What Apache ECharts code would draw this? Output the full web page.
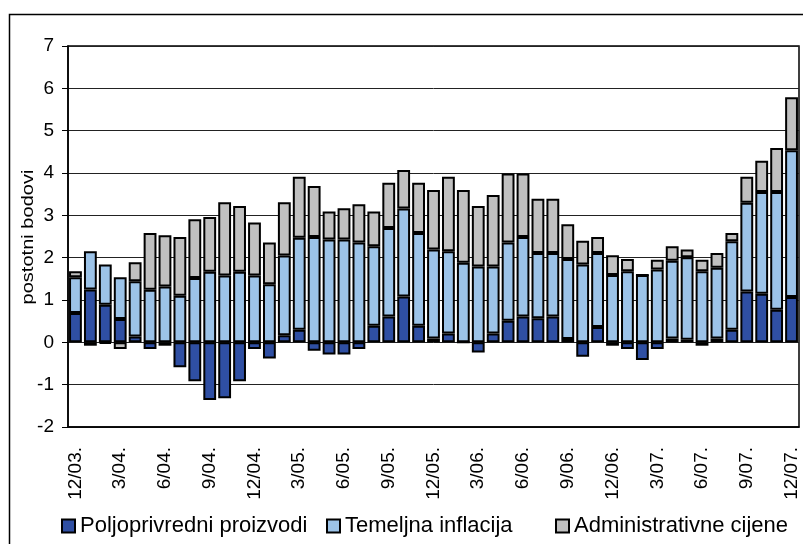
<!DOCTYPE html>
<html>
<head>
<meta charset="utf-8">
<title>Doprinosi inflaciji</title>
<script src="https://cdn.jsdelivr.net/npm/echarts@6/dist/echarts.min.js"></script>
<style>
  html, body { margin: 0; padding: 0; background: #fff; }
  #chart { width: 803px; height: 544px; }
</style>
</head>
<body>
<div id="chart"></div>
<script>
// mjeseci od 12/03. do 12/07.
var months = [
  '12/03.', '1/04.', '2/04.', '3/04.', '4/04.', '5/04.', '6/04.', '7/04.', '8/04.', '9/04.', '10/04.', '11/04.',
  '12/04.', '1/05.', '2/05.', '3/05.', '4/05.', '5/05.', '6/05.', '7/05.', '8/05.', '9/05.', '10/05.', '11/05.',
  '12/05.', '1/06.', '2/06.', '3/06.', '4/06.', '5/06.', '6/06.', '7/06.', '8/06.', '9/06.', '10/06.', '11/06.',
  '12/06.', '1/07.', '2/07.', '3/07.', '4/07.', '5/07.', '6/07.', '7/07.', '8/07.', '9/07.', '10/07.', '11/07.',
  '12/07.'
];

var poljoprivredni = [
  0.69, 1.25, 0.89, 0.55, 0.14, -0.16, -0.08, -0.59, -0.92, -1.36, -1.32, -0.92,
  -0.16, -0.38, 0.17, 0.30, -0.20, -0.29, -0.29, -0.16, 0.39, 0.61, 1.08, 0.39,
  0.09, 0.21, 0, -0.24, 0.21, 0.51, 0.61, 0.57, 0.61, 0.08, -0.34, 0.36,
  -0.08, -0.16, -0.42, -0.16, 0.09, 0.06, -0.08, 0.09, 0.30, 1.20, 1.15, 0.77,
  1.07
];

var temeljna = [
  0.85, 0.90, 0.95, 0.99, 1.30, 1.24, 1.32, 1.10, 1.52, 1.67, 1.58, 1.67,
  1.58, 1.37, 1.88, 2.17, 2.49, 2.43, 2.43, 2.36, 1.88, 2.09, 2.08, 2.19,
  2.10, 1.94, 1.88, 1.79, 1.58, 1.85, 1.88, 1.54, 1.50, 1.89, 1.84, 1.75,
  1.59, 1.68, 1.59, 1.72, 1.84, 1.95, 1.68, 1.67, 2.09, 2.10, 2.40, 2.78,
  3.47
];

var administrativne = [
  0.14, -0.08, -0.03, -0.16, 0.45, 1.34, 1.21, 1.39, 1.39, 1.29, 1.73, 1.55,
  1.25, 0.99, 1.26, 1.44, 1.20, 0.66, 0.74, 0.90, 0.82, 1.07, 0.91, 1.19,
  1.41, 1.76, 1.72, 1.43, 1.69, 1.63, 1.50, 1.28, 1.28, 0.82, 0.56, 0.38,
  0.47, 0.29, 0, 0.23, 0.34, 0.18, 0.27, 0.35, 0.19, 0.61, 0.74, 1.04,
  1.25
];

var seriesNames = ['Poljoprivredni proizvodi', 'Temeljna inflacija', 'Administrativne cijene'];
var seriesColors = ['#2f4fa3', '#9cc3e8', '#c0c0c0'];

var font = "'Liberation Sans', Arial, sans-serif";

var myChart = echarts.init(document.getElementById('chart'));

function legendFor(i, left) {
  return {
    data: [seriesNames[i]],
    left: left,
    top: 510,
    icon: 'rect',
    itemWidth: 13,
    itemHeight: 13,
    selectedMode: false,
    textStyle: { fontFamily: font, fontSize: 22, color: '#000' }
  };
}

function barSeries(i, values) {
  return {
    name: seriesNames[i],
    type: 'bar',
    stack: 'ukupno',
    barCategoryGap: '14%',
    data: values,
    itemStyle: {
      color: seriesColors[i],
      borderColor: '#000',
      borderWidth: 2
    }
  };
}

myChart.setOption({
  animation: false,
  backgroundColor: '#fff',
  legend: [
    legendFor(0, 56),
    legendFor(1, 321),
    legendFor(2, 550)
  ],
  grid: {
    left: 68,
    right: 4,
    top: 46,
    bottom: 117,
    show: true,
    borderColor: '#000',
    borderWidth: 1.5
  },
  xAxis: {
    type: 'category',
    data: months,
    axisLine: { onZero: false, lineStyle: { color: '#000', width: 1.5 } },
    axisTick: { interval: 2, length: 6, lineStyle: { color: '#000', width: 1.5 } },
    axisLabel: {
      interval: 2,
      rotate: 90,
      margin: 20,
      color: '#000',
      fontFamily: font,
      fontSize: 19
    }
  },
  yAxis: {
    type: 'value',
    min: -2,
    max: 7,
    interval: 1,
    axisLine: { show: true, lineStyle: { color: '#000', width: 1.5 } },
    axisTick: { show: true, length: 6, lineStyle: { color: '#000' } },
    axisLabel: { margin: 14, color: '#000', fontFamily: font, fontSize: 19 },
    splitLine: { lineStyle: { color: '#222', width: 1 } }
  },
  graphic: [
    {
      // okvir slike
      type: 'rect',
      shape: { x: 9.5, y: 14.5, width: 820, height: 560 },
      style: { fill: null, stroke: '#000', lineWidth: 1.5 },
      silent: true
    },
    {
      // naziv osi y
      type: 'text',
      x: 28,
      y: 237,
      rotation: Math.PI / 2,
      scaleX: 1.18,
      style: {
        text: 'postotni bodovi',
        fontFamily: font,
        fontSize: 17,
        fill: '#000',
        align: 'center',
        verticalAlign: 'middle'
      },
      silent: true
    }
  ],
  series: [
    barSeries(0, poljoprivredni),
    barSeries(1, temeljna),
    barSeries(2, administrativne)
  ]
});
</script>
</body>
</html>
